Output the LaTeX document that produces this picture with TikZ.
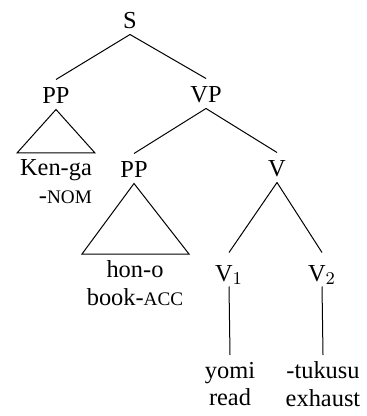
\documentclass[tikz,border=0pt]{standalone}
\usepackage{fontspec}
\setmainfont{Liberation Serif}
\usetikzlibrary{calc}
\newcommand{\smc}[1]{{\fontsize{9.6pt}{10pt}\selectfont #1}}
\tikzset{
  every node/.style={font=\fontsize{12.2pt}{13.8pt}\selectfont},
  cat/.style={inner sep=0pt, text height=12pt, text depth=2.5pt, anchor=base},
  leaf/.style={inner sep=0pt, outer sep=3.5pt, anchor=north},
}
\begin{document}
\begin{tikzpicture}[x=0.5pt, y=-0.5pt, line width=0.5pt]
      \useasboundingbox (0,0) rectangle (367,416);
      %Categories
      \node[cat] (S) at (130,29) {S};
      \node[cat] (PPa) at (56,104) {PP};
      \node[cat] (VP) at (206,103) {VP};
      \node[cat] (PPb) at (134,178) {PP};
      \node[cat] (V) at (277,177) {V};
      \node[cat, text height=14pt] (Va) at (229,281) {V$_1$};
      \node[cat, text height=14pt] (Vb) at (322,281) {V$_2$};
      %Words
      \node[leaf, align=right] (kenga) at (56,153) {Ken-ga\\-\smc{NOM}};
      \node[leaf, align=center] (hono) at (135,254) {hon-o\\book-\smc{ACC}};
      \node[leaf, align=center] (yomi) at (230,355) {yomi\\read};
      \node[leaf, align=center] (tukusu) at (323,355) {-tukusu\\exhaust};
      %Branches
      \draw[-] (S.south) -- (PPa.north);
      \draw[-] (S.south) -- (VP.north);
      \draw[-] (VP.south) -- (PPb.north);
      \draw[-] (VP.south) -- (V.north);
      \draw[-] (V.south) -- (Va.north);
      \draw[-] (V.south) -- (Vb.north);
      \draw[-] (Va.south) -- (yomi.north);
      \draw[-] (Vb.south) -- (tukusu.north);
      %Triangles
      \draw[-] (PPa.south) -- ($(kenga.north)+(-39,0)$) -- ($(kenga.north)+(39,0)$) -- cycle;
      \draw[-] (PPb.south) -- ($(hono.north)+(-53,0)$) -- ($(hono.north)+(54,0)$) -- cycle;
\end{tikzpicture}
\end{document}
